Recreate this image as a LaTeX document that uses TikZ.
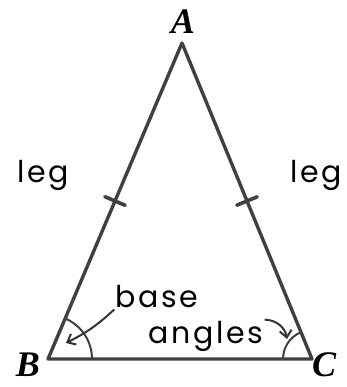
\documentclass[tikz,border=0pt]{standalone}
\usepackage{fontspec}
\setmainfont{Liberation Serif}
\newfontfamily\handfont[LetterSpace=9]{Poppins}
\usepackage{tikz}
\usetikzlibrary{arrows.meta,calc}

\begin{document}
\begin{tikzpicture}[
  x=1pt, y=1pt,
  side/.style={line width=3.4pt, draw=black!75, line join=round},
  tick/.style={line width=3.6pt, draw=black!75, line cap=round},
  angle mark/.style={line width=2pt, draw=black!75},
  vertex label/.style={font=\fontsize{36}{36}\selectfont\bfseries\itshape,
    inner sep=0pt, text depth=0pt, anchor=base},
  hand/.style={font=\handfont\fontsize{30}{30}\selectfont, inner sep=1pt},
  pointer/.style={-{Straight Barb[length=7pt,width=12pt]}, line width=2pt,
    draw=black!80}
]
\useasboundingbox (0,0) rectangle (346,387);

% vertices
\coordinate (A) at (182,344);
\coordinate (B) at (48,28);
\coordinate (C) at (312,28);
\draw[side] (A) -- (B) -- (C) -- cycle;

\node[vertex label] (labA) at (183,353) {A};
\node[vertex label] (labB) at (28,10) {B};
\node[vertex label] (labC) at (324,10) {C};

% equal legs
\coordinate (mL) at ($(A)!0.5!(B)$);
\coordinate (mR) at ($(A)!0.5!(C)$);
\draw[tick] ($(mL)!11pt!90:(A)$) -- ($(mL)!11pt!-90:(A)$);
\draw[tick] ($(mR)!11pt!90:(A)$) -- ($(mR)!11pt!-90:(A)$);
\node[hand] (legL) at (43,212) {leg};
\node[hand] (legR) at (316,212) {leg};

% base angles
\draw[angle mark] ([shift={(0:44)}]B) arc (0:67:44);
\draw[angle mark] ([shift={(180:29)}]C) arc (180:113:29);
\coordinate (tipB) at (66,44);
\coordinate (tipC) at (287,48);
\node[hand] (base) at (157,90) {base};
\node[hand] (angles) at (206,51) {angles};
\draw[pointer] (base.south west) to[bend left=8] (tipB);
\draw[pointer] (angles.north east) to[bend left=40] (tipC);
\end{tikzpicture}
\end{document}
